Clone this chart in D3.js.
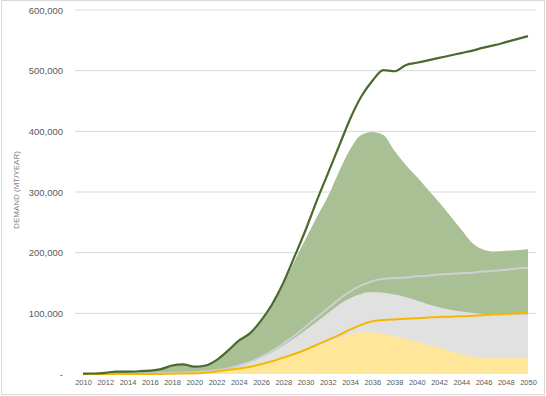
<!DOCTYPE html>
<html>
  <head>
    <meta charset="UTF-8">
    <title>Demand</title>
    <style>
      body {margin: 0; background: #fff}
      svg {display: block; font-family: "Liberation Sans", Arial, sans-serif}
      .tick text {fill: #595959}
      .label {font-size: 8px; fill: #7f7f7f; text-anchor: middle}
    </style>
  </head>
  <body>
    <div id="chart"></div>
    <script src="https://d3js.org/d3.v7.min.js"></script>
    <script>

const years = d3.range(2010, 2051);

// dark green line
const totalLine = [500, 800, 2000, 4000, 4000, 4500, 5500, 8000, 14000, 16000,
  12000, 14000, 23000, 38000, 55000, 67000, 88000, 115000, 150000, 193000,
  237000, 285000, 330000, 375000, 420000, 457000, 483000, 501000, 499000, 509000,
  513000, 517000, 521000, 525000, 529000, 533000, 538000, 542000, 547000, 552000, 557000];

// green area
const greenArea = [500, 800, 2000, 4000, 4000, 4500, 5500, 8000, 14000, 16000,
  12000, 14000, 23000, 38000, 55000, 67000, 88000, 114000, 146000, 186000,
  222000, 258000, 292000, 333000, 370000, 394000, 399000, 394000, 368000, 345000,
  325000, 304000, 283000, 261000, 238000, 216000, 205000, 202000, 203000, 204000, 206000];

// light grey line
const greyLine = [0, 0, 0, 0, 0, 500, 1000, 1500, 2000, 2500,
  3000, 4000, 6000, 9000, 14000, 20000, 28000, 38000, 50000, 63000,
  78000, 93000, 108000, 123000, 136000, 146000, 153000, 157000, 158000, 159000,
  161000, 162000, 164000, 165000, 166000, 167000, 169000, 170000, 172000, 174000, 175000];

// grey area
const greyArea = [0, 0, 0, 0, 0, 500, 1000, 1500, 2000, 2500,
  3000, 4000, 6000, 9000, 14000, 20000, 27000, 36000, 47000, 59000,
  72000, 86000, 100000, 114000, 125000, 132000, 135000, 134000, 131000, 127000,
  121000, 115000, 110000, 106000, 103000, 101000, 99000, 98000, 98000, 98000, 98000];

// yellow line
const yellowLine = [0, 0, 0, 0, 0, 0, 0, 200, 500, 800,
  1000, 2000, 4000, 6500, 9000, 12000, 16000, 21000, 27000, 33000,
  40000, 48000, 56000, 64000, 73000, 81000, 87000, 89000, 90000, 91000,
  92000, 93000, 94000, 94500, 95000, 96000, 97000, 98000, 99000, 100000, 101000];

// yellow area
const yellowArea = [0, 0, 0, 0, 0, 0, 0, 200, 500, 800,
  1000, 2000, 4000, 6500, 9000, 12000, 16000, 21000, 27000, 33000,
  38000, 45000, 52000, 59000, 65000, 69000, 69000, 66000, 62000, 58000,
  53000, 48000, 44000, 38000, 33000, 29000, 27000, 26000, 26000, 26000, 26000];

const yTicks = [0, 100000, 200000, 300000, 400000, 500000, 600000];
const xTicks = d3.range(2010, 2051, 2);

const width = 546, height = 396;

const svg = d3.select("#chart").append("svg")
  .attr("width", width).attr("height", height);

svg.append("rect")
  .attr("x", 1.5).attr("y", 0.5)
  .attr("width", width - 3).attr("height", height - 2)
  .attr("fill", "#fff").attr("stroke", "#d9d9d9");

const x = d3.scaleLinear().domain([2010, 2050]).range([83, 528]);
const y = d3.scaleLinear().domain([0, 600000]).range([374, 10]);

// gridlines
svg.append("g")
  .selectAll("line").data(yTicks.slice(1)).join("line")
  .attr("x1", 75).attr("x2", 536)
  .attr("y1", d => y(d)).attr("y2", d => y(d))
  .attr("stroke", "#d9d9d9").attr("stroke-width", 1);

const area = vals => d3.area()
  .x((d, i) => x(years[i]))
  .y0(y(0))
  .y1(d => y(d))
  .curve(d3.curveMonotoneX)(vals);

const line = vals => d3.line()
  .x((d, i) => x(years[i]))
  .y(d => y(d))
  .curve(d3.curveMonotoneX)(vals);

svg.append("path").attr("d", area(greenArea)).attr("fill", "#a9bf94");
svg.append("path").attr("d", area(greyArea)).attr("fill", "#e1e1e1");
svg.append("path").attr("d", area(yellowArea)).attr("fill", "#ffe699");

svg.append("path").attr("d", line(greyLine))
  .attr("fill", "none").attr("stroke", "#cfcfcf").attr("stroke-width", 2);
svg.append("path").attr("d", line(yellowLine))
  .attr("fill", "none").attr("stroke", "#f5b800").attr("stroke-width", 2);
svg.append("path").attr("d", line(totalLine))
  .attr("fill", "none").attr("stroke", "#4a6a2f").attr("stroke-width", 2.2);

// y axis
const yAxis = svg.append("g")
  .attr("transform", "translate(66,0)")
  .call(d3.axisLeft(y).tickValues(yTicks).tickSize(0).tickPadding(3)
    .tickFormat(d => d === 0 ? "-" : d3.format(",")(d)));
yAxis.select(".domain").remove();
yAxis.selectAll("text").style("font-size", "9.5px");

// x axis
const xAxis = svg.append("g")
  .attr("transform", "translate(0,378)")
  .call(d3.axisBottom(x).tickValues(xTicks).tickSize(0).tickPadding(2)
    .tickFormat(d3.format("d")));
xAxis.select(".domain").remove();
xAxis.selectAll("text").style("font-size", "7.5px");

svg.append("text")
  .attr("class", "label")
  .attr("transform", "rotate(-90)")
  .attr("x", -190)
  .attr("y", 19)
  .text("DEMAND (MT/YEAR)");

    </script>
  </body>
</html>
